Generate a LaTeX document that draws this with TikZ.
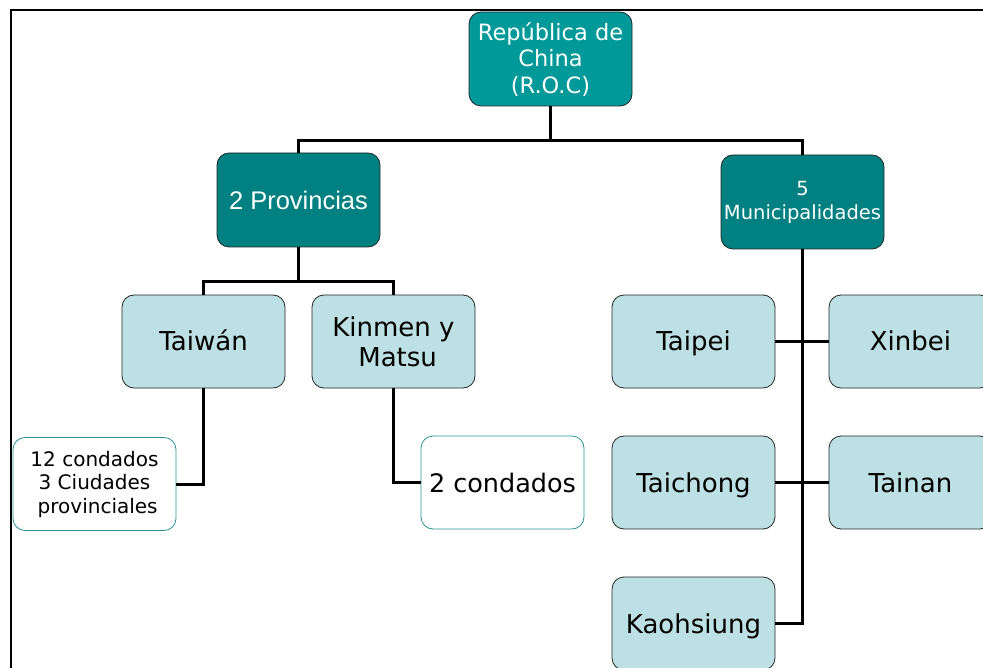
\documentclass[tikz,border=0pt]{standalone}
\usepackage{fontspec}
\setmainfont{DejaVu Sans}
\newfontfamily\arialfont{Liberation Sans}
\definecolor{rootfill}{HTML}{009999}
\definecolor{darkfill}{HTML}{008080}
\definecolor{lightfill}{HTML}{BCE0E3}
\definecolor{tealedge}{HTML}{2E9393}
\begin{document}
\begin{tikzpicture}[x=1pt,y=-1pt,
  box/.style={draw=black!85, line width=0.8pt, rounded corners=12pt, minimum width=163pt, minimum height=93pt, inner sep=2pt, align=center},
  topbox/.style={box, fill=darkfill, text=white},
  lightbox/.style={box, fill=lightfill, text=black, font=\fontsize{26}{30}\selectfont},
  oneline/.style={text height=19pt, text depth=0pt},
  whitebox/.style={box, draw=tealedge, fill=white, text=black},
  conn/.style={line width=3pt, line join=miter}]
\useasboundingbox (0,0) rectangle (983,668);
\clip (0,0) rectangle (983,668);
\draw[line width=2pt] (11,668) -- (11,10.5) -- (990,10.5);
\node[box, fill=rootfill, text=white, minimum height=94pt, font=\fontsize{22.5}{26.5}\selectfont] (root) at (550.5,59) {República de\\China\\(R.O.C)};
\node[topbox, minimum height=94pt, font=\arialfont\fontsize{25.5}{28}\selectfont] (prov) at (298.5,200) {2 Provincias};
\node[topbox, minimum height=94pt, font=\fontsize{19.5}{24}\selectfont] (mun) at (802.5,202) {5\\Municipalidades};
\node[lightbox, oneline] (taiwan) at (203.5,341.5) {Taiwán};
\node[lightbox] (kinmen) at (393.5,341.5) {Kinmen y\\\ Matsu};
\node[lightbox, oneline] (taipei) at (693.5,341.5) {Taipei};
\node[lightbox, oneline] (xinbei) at (910.5,341.5) {Xinbei};
\node[lightbox, oneline] (taichong) at (693.5,482.5) {Taichong};
\node[lightbox, oneline] (tainan) at (910.5,482.5) {Tainan};
\node[lightbox, oneline] (kaoh) at (693.5,623.5) {Kaohsiung};
\node[whitebox, font=\fontsize{20}{23.5}\selectfont] (c12) at (94.5,484) {12 condados\\3 Ciudades\\\ provinciales};
\node[whitebox, font=\fontsize{25.5}{30}\selectfont, oneline] (c2) at (502.5,482.5) {2 condados};
\draw[conn] (root.south) -- ++(0,34) -| (prov.north);
\draw[conn] (root.south) -- ++(0,34) -| (mun.north);
\draw[conn] (prov.south) -- ++(0,34) -| (taiwan.north);
\draw[conn] (prov.south) -- ++(0,34) -| (kinmen.north);
\draw[conn] (taiwan.south) |- (c12.east);
\draw[conn] (kinmen.south) |- (c2.west);
\draw[conn] (mun.south) |- (kaoh.east);
\draw[conn] (taipei.east) -- (xinbei.west);
\draw[conn] (taichong.east) -- (tainan.west);
\end{tikzpicture}
\end{document}
